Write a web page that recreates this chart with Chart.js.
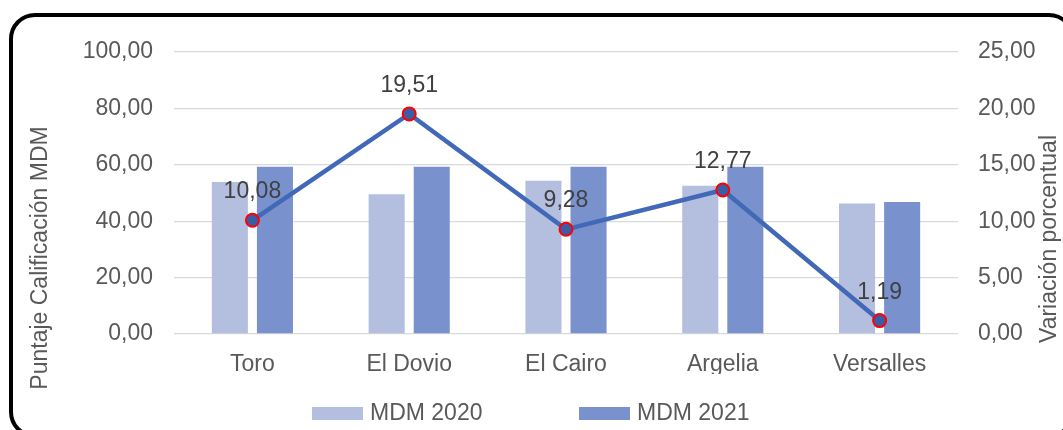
<!DOCTYPE html>
<html>
<head>
<meta charset="utf-8">
<script src="https://cdn.jsdelivr.net/npm/chart.js@4"></script>
<style>
  body { margin: 0; background: #fff; overflow: hidden; }
  #marco { position: relative; width: 1063px; height: 430px; overflow: hidden; }
  #borde { position: absolute; left: 9px; top: 13px; width: 1058px; height: 417px;
           border: 4px solid #000; border-radius: 26px; pointer-events: none; }
</style>
</head>
<body>
<div id="marco">
  <canvas id="grafico" width="1063" height="430"></canvas>
  <div id="borde"></div>
</div>
<script>
const municipios = ["Toro", "El Dovio", "El Cairo", "Argelia", "Versalles"];
const mdm2020 = [53.9, 49.6, 54.3, 52.6, 46.3];
const mdm2021 = [59.3, 59.3, 59.3, 59.3, 46.8];
const variacion = [10.08, 19.51, 9.28, 12.77, 1.19];

const fuente = '"Liberation Sans", Arial, sans-serif';
const gris = "#595959";
const tam = 23;
const coma = (v) => Number(v).toFixed(2).replace(".", ",");

// etiquetas sobre los puntos de la linea, leyenda y titulos de ejes
const extras = {
  id: "extras",
  afterDatasetsDraw(chart) {
    const ctx = chart.ctx;
    const meta = chart.getDatasetMeta(0);
    ctx.save();
    ctx.font = tam + "px " + fuente;
    ctx.fillStyle = "#404040";
    ctx.textAlign = "center";
    ctx.textBaseline = "alphabetic";
    meta.data.forEach((p, i) => {
      ctx.fillText(coma(variacion[i]), p.x, p.y - 22);
    });
    ctx.restore();
  },
  afterDraw(chart) {
    const ctx = chart.ctx;
    ctx.save();
    ctx.font = tam + "px " + fuente;
    ctx.fillStyle = gris;
    ctx.textBaseline = "middle";
    // leyenda
    const items = [
      { x: 312, texto: "MDM 2020", color: chart.data.datasets[1].backgroundColor },
      { x: 579, texto: "MDM 2021", color: chart.data.datasets[2].backgroundColor }
    ];
    items.forEach(it => {
      ctx.fillStyle = it.color;
      ctx.fillRect(it.x, 407, 51, 13);
      ctx.fillStyle = gris;
      ctx.textAlign = "left";
      ctx.fillText(it.texto, it.x + 58, 414);
    });
    ctx.textAlign = "center";
    ctx.translate(1050, 239);
    ctx.rotate(-Math.PI / 2);
    ctx.fillText("Variación porcentual", 0, 0);
    ctx.restore();
    ctx.save();
    ctx.font = tam + "px " + fuente;
    ctx.fillStyle = gris;
    ctx.textAlign = "center";
    ctx.textBaseline = "middle";
    ctx.translate(41, 258);
    ctx.rotate(-Math.PI / 2);
    ctx.fillText("Puntaje Calificación MDM", 0, 0);
    ctx.restore();
  }
};

new Chart(document.getElementById("grafico"), {
  type: "bar",
  data: {
    labels: municipios,
    datasets: [
      {
        type: "line", label: "Variación", data: variacion, yAxisID: "y1", order: 0,
        borderColor: "#4169B8", borderWidth: 4.5, tension: 0,
        pointRadius: 6.5, pointBackgroundColor: "#3A5DA6",
        pointBorderColor: "#FF0000", pointBorderWidth: 2
      },
      { label: "MDM 2020", data: mdm2020, yAxisID: "y", order: 1,
        backgroundColor: "#B4BEDF", categoryPercentage: 0.575, barPercentage: 0.8 },
      { label: "MDM 2021", data: mdm2021, yAxisID: "y", order: 1,
        backgroundColor: "#7992CE", categoryPercentage: 0.575, barPercentage: 0.8 }
    ]
  },
  options: {
    responsive: false,
    animation: false,
    devicePixelRatio: 1,
    layout: { padding: { top: 52, left: 0, right: 0, bottom: 56 } },
    plugins: { legend: { display: false }, tooltip: { enabled: false } },
    scales: {
      x: {
        grid: { display: false, drawTicks: false },
        border: { display: false },
        ticks: { color: gris, font: { family: fuente, size: tam }, padding: 17 },
        afterFit: (s) => { s.height = 40; }
      },
      y: {
        position: "left", min: 0, max: 100,
        grid: { color: "#d9d9d9", lineWidth: 1.3, drawTicks: false },
        border: { display: false },
        ticks: { stepSize: 20, color: gris, font: { family: fuente, size: tam }, padding: 21,
                 callback: (v) => coma(v) },
        afterFit: (s) => { s.width = 174; }
      },
      y1: {
        position: "right", min: 0, max: 25,
        grid: { display: false, drawTicks: false },
        border: { display: false },
        ticks: { stepSize: 5, color: gris, font: { family: fuente, size: tam }, padding: 20,
                 callback: (v) => coma(v) },
        afterFit: (s) => { s.width = 105; }
      }
    }
  },
  plugins: [extras]
});
</script>
</body>
</html>
